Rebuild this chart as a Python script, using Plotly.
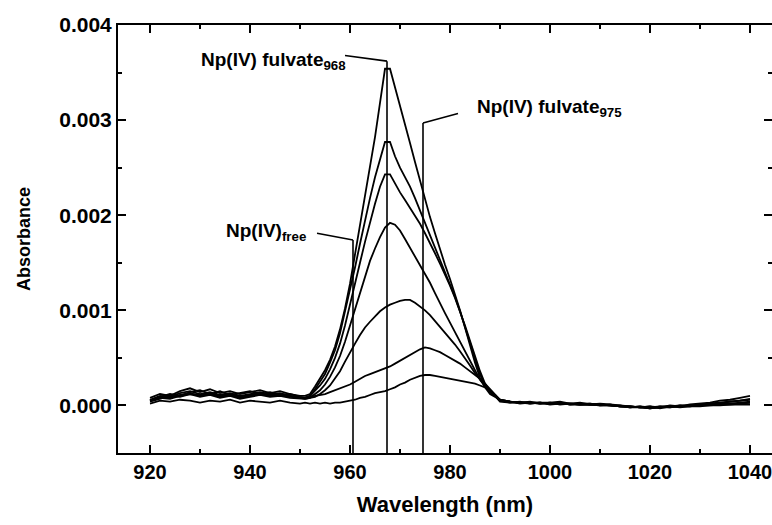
import plotly.graph_objects as go

# Wavelength grid (nm)
wavelength_nm = list(range(920, 951, 2)) + list(range(951, 990)) + list(range(990, 1041, 2))

# Absorbance spectra, in units of 10^-3
spec_1 = [0.08,0.12,0.10,0.15,0.18,0.14,0.17,0.13,0.15,0.12,0.14,0.16,0.13,0.15,0.12,0.10,
          0.10,0.12,0.20,0.28,0.37,0.48,0.62,0.80,1.02,1.28,1.58,1.88,2.18,2.50,2.82,3.18,3.54,3.54,
          3.35,3.15,2.95,2.76,2.56,2.36,2.17,1.98,1.81,1.64,1.48,1.33,1.17,1.00,0.82,0.63,0.45,0.29,0.19,0.12,0.09,
          0.06,0.04,0.03,0.04,0.02,0.03,0.04,0.02,0.03,0.01,0.02,0.01,0.00,-0.01,-0.02,-0.01,-0.02,0.00,-0.01,0.01,0.02,0.03,0.05,0.06,0.08,0.10]
spec_2 = [0.06,0.10,0.09,0.13,0.15,0.12,0.14,0.11,0.13,0.10,0.12,0.14,0.12,0.13,0.10,0.08,
          0.08,0.10,0.17,0.25,0.33,0.45,0.58,0.76,0.98,1.20,1.45,1.70,1.95,2.18,2.40,2.60,2.77,2.77,
          2.62,2.50,2.40,2.30,2.18,2.05,1.92,1.80,1.67,1.54,1.41,1.28,1.14,0.99,0.83,0.66,0.49,0.33,0.21,0.14,0.10,
          0.05,0.04,0.02,0.03,0.03,0.02,0.03,0.01,0.02,0.02,0.01,0.00,0.00,-0.02,-0.01,-0.03,-0.01,-0.02,0.00,0.00,0.01,0.02,0.03,0.04,0.05,0.06]
spec_3 = [0.05,0.09,0.12,0.10,0.14,0.16,0.12,0.15,0.11,0.13,0.15,0.12,0.14,0.11,0.12,0.09,
          0.08,0.10,0.15,0.21,0.28,0.38,0.50,0.65,0.84,1.05,1.27,1.50,1.72,1.93,2.12,2.30,2.43,2.43,
          2.33,2.24,2.16,2.08,2.00,1.91,1.81,1.71,1.60,1.49,1.38,1.26,1.13,0.99,0.84,0.68,0.52,0.36,0.23,0.15,0.10,
          0.05,0.03,0.04,0.02,0.03,0.03,0.01,0.02,0.02,0.01,0.00,0.01,-0.01,-0.01,-0.02,-0.01,-0.03,-0.01,0.00,-0.01,0.01,0.02,0.02,0.04,0.05,0.07]
spec_4 = [0.04,0.07,0.10,0.09,0.12,0.11,0.13,0.10,0.12,0.09,0.11,0.13,0.11,0.12,0.10,0.08,
          0.07,0.08,0.12,0.16,0.22,0.30,0.40,0.52,0.67,0.84,1.02,1.20,1.37,1.52,1.65,1.77,1.87,1.92,
          1.90,1.84,1.75,1.66,1.57,1.48,1.39,1.29,1.18,1.07,0.97,0.87,0.77,0.67,0.56,0.46,0.36,0.27,0.20,0.14,0.10,
          0.04,0.03,0.03,0.02,0.03,0.01,0.02,0.02,0.01,0.01,0.00,0.00,-0.01,-0.02,-0.01,-0.02,-0.02,-0.01,-0.01,0.00,0.00,0.01,0.02,0.02,0.03,0.04]
spec_5 = [0.05,0.08,0.07,0.10,0.12,0.09,0.11,0.08,0.10,0.07,0.09,0.11,0.09,0.10,0.08,0.07,
          0.07,0.08,0.09,0.12,0.16,0.21,0.28,0.36,0.46,0.56,0.65,0.74,0.82,0.88,0.94,0.99,1.03,1.06,
          1.08,1.10,1.11,1.11,1.08,1.04,1.00,0.95,0.89,0.83,0.77,0.71,0.64,0.57,0.50,0.42,0.34,0.27,0.21,0.15,0.11,
          0.05,0.04,0.03,0.03,0.02,0.02,0.03,0.01,0.01,0.02,0.00,0.00,-0.01,-0.01,-0.02,-0.03,-0.02,-0.01,-0.02,-0.01,0.00,0.00,0.01,0.01,0.02,0.03]
spec_6 = [0.05,0.09,0.08,0.11,0.13,0.10,0.12,0.09,0.11,0.08,0.10,0.12,0.10,0.11,0.09,0.08,
          0.08,0.09,0.10,0.11,0.12,0.14,0.16,0.18,0.20,0.22,0.25,0.28,0.31,0.33,0.35,0.37,0.39,0.41,
          0.44,0.47,0.50,0.53,0.56,0.59,0.61,0.60,0.58,0.56,0.53,0.50,0.47,0.44,0.40,0.36,0.32,0.28,0.23,0.17,0.12,
          0.06,0.04,0.03,0.03,0.03,0.02,0.02,0.02,0.01,0.01,0.01,0.00,-0.01,-0.01,-0.02,-0.02,-0.01,-0.01,-0.01,0.00,0.00,0.01,0.01,0.02,0.02,0.03]
spec_7 = [0.02,0.05,0.04,0.06,0.05,0.03,0.05,0.04,0.06,0.03,0.05,0.04,0.03,0.05,0.03,0.02,
          0.03,0.02,0.03,0.02,0.03,0.02,0.03,0.03,0.04,0.05,0.06,0.08,0.09,0.11,0.13,0.14,0.15,0.17,
          0.19,0.22,0.24,0.27,0.29,0.31,0.32,0.32,0.31,0.30,0.29,0.28,0.27,0.26,0.25,0.24,0.23,0.21,0.19,0.15,0.11,
          0.06,0.04,0.03,0.03,0.02,0.03,0.02,0.02,0.01,0.01,0.01,0.00,-0.01,-0.02,-0.02,-0.03,-0.02,-0.02,-0.01,-0.01,-0.01,0.00,0.00,0.01,0.01,0.01]

spectra_milli = [spec_1, spec_2, spec_3, spec_4, spec_5, spec_6, spec_7]

# Marker lines (positions as drawn in the figure) and their labels
marker_line_nm = [960.6, 967.4, 974.6]
marker_labels = ["Np(IV)<sub>free</sub>", "Np(IV) fulvate<sub>968</sub>", "Np(IV) fulvate<sub>975</sub>"]

FONT = "Liberation Sans, Arial, Helvetica, sans-serif"
INK = "#000000"
YMIN, YMAX = -0.0005, 0.004

fig = go.Figure()
for s in spectra_milli:
    assert len(s) == len(wavelength_nm)
    fig.add_trace(go.Scatter(
        x=wavelength_nm, y=[v / 1000.0 for v in s], mode="lines",
        line=dict(color=INK, width=1.8), hoverinfo="skip"))
# invisible trace so the right-hand tick axis is rendered
fig.add_trace(go.Scatter(x=[wavelength_nm[0]], y=[spec_7[0] / 1000.0], yaxis="y2",
                         mode="lines", line=dict(width=0), hoverinfo="skip", showlegend=False))

# Leader lines: (start x, start y, top of marker line, text anchor, text x, text y)
leaders = [
    (953.4, 0.00181, 0.00174, "right", 951.6, 0.00182),
    (959.0, 0.00368, 0.00362, "right", 959.6, 0.00362),
    (981.6, 0.00307, 0.00297, "left", 985.0, 0.00313),
]
for (lx, ly, top, anchor, tx, ty), mx, lab in zip(leaders, marker_line_nm, marker_labels):
    fig.add_shape(type="line", xref="x", yref="y", x0=lx, y0=ly, x1=mx, y1=top,
                  line=dict(color=INK, width=1.6))
    fig.add_shape(type="line", xref="x", yref="y", x0=mx, y0=top, x1=mx, y1=YMIN,
                  line=dict(color=INK, width=1.6))
    fig.add_annotation(x=tx, y=ty, xref="x", yref="y", text="<b>" + lab + "</b>", showarrow=False,
                       xanchor=anchor, yanchor="middle",
                       font=dict(family=FONT, size=19, color=INK))

tick_common = dict(ticks="inside", ticklen=8, tickwidth=1.6, tickcolor=INK,
                   showgrid=False, zeroline=False)
fig.update_xaxes(range=[913.6, 1044.4], dtick=20, tick0=920,
                 showline=True, linewidth=2, linecolor=INK, mirror="ticks",
                 tickfont=dict(family=FONT, size=20, color=INK, weight="bold"),
                 ticklabeloverflow="allow",
                 minor=dict(dtick=10, ticks="inside", ticklen=4, tickwidth=1.6, tickcolor=INK),
                 title=dict(text="<b>Wavelength (nm)</b>", font=dict(family=FONT, size=22, color=INK), standoff=15),
                 **tick_common)
fig.update_layout(
    yaxis=dict(range=[YMIN, YMAX], dtick=0.001, tick0=0, tickformat=".3f",
               showline=True, linewidth=2, linecolor=INK, mirror=False,
               tickfont=dict(family=FONT, size=21, color=INK, weight="bold"),
               minor=dict(dtick=0.0005, ticks="inside", ticklen=4, tickwidth=1.6, tickcolor=INK),
               title=dict(text="<b>Absorbance</b>", font=dict(family=FONT, size=18, color=INK), standoff=24),
               **tick_common),
    yaxis2=dict(range=[YMIN, YMAX], dtick=0.001, tick0=0, overlaying="y", side="right",
                showline=False, showticklabels=False,
                minor=dict(dtick=0.0005, ticks="inside", ticklen=4, tickwidth=1.6, tickcolor=INK),
                **tick_common),
    width=772, height=525, margin=dict(l=118, r=0, t=25, b=72),
    plot_bgcolor="white", paper_bgcolor="white", showlegend=False,
    font=dict(family=FONT, color=INK))
fig.write_html("out.html")
